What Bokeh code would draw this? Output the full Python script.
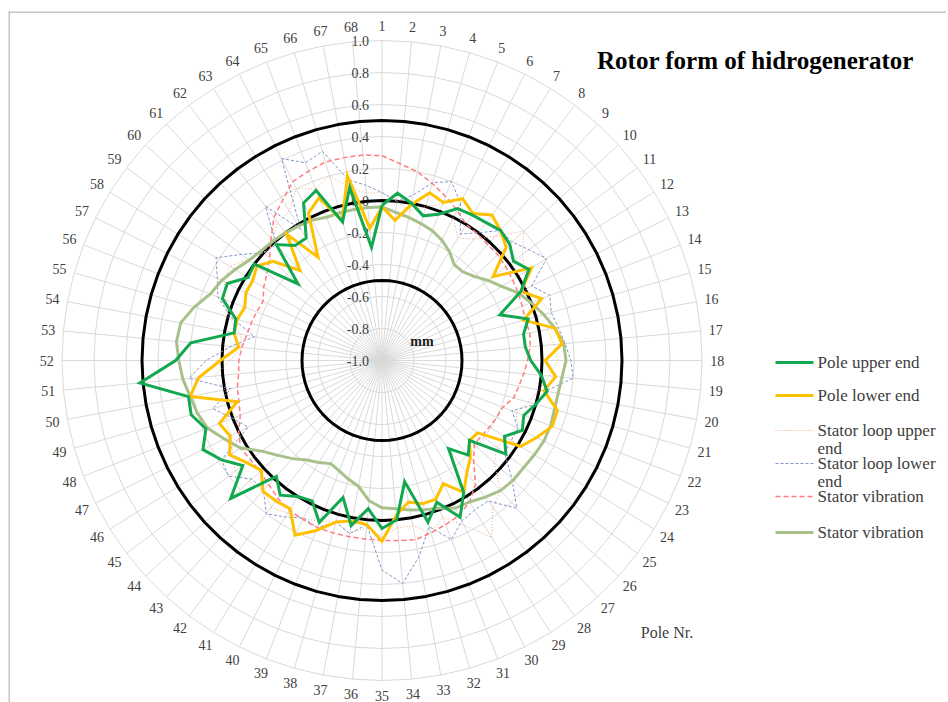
import numpy as np
from bokeh.plotting import figure
from bokeh.models import Range1d, Span
from bokeh.core.properties import value
from bokeh.embed import file_html
from bokeh.resources import INLINE

# ---------------- data ----------------
poles = list(range(1, 69))

pole_upper_end = [
    -0.03, 0.05, 0.00, -0.06, -0.02, 0.06, 0.07, 0.08, 0.10, 0.08,
    0.03, 0.08, -0.03, -0.21, -0.05, -0.10, -0.10, -0.07, 0.00, 0.05,
    0.00, -0.05, -0.02, -0.10, -0.03, -0.26, -0.20, -0.31, -0.03, 0.095,
    -0.05, 0.05, -0.23, 0.00, 0.05, -0.07, 0.05, -0.11, 0.085, -0.02,
    0.00, 0.055, -0.02, 0.28, 0.09, 0.18, 0.25, 0.18, 0.24, 0.23,
    0.52, 0.29, 0.20, -0.06, -0.05, 0.07, 0.08, -0.015, 0.00, -0.29,
    -0.02, -0.10, -0.10, 0.10, 0.14, -0.10, 0.10, -0.29]

pole_lower_end = [
    -0.04, -0.12, -0.01, 0.09, 0.06, 0.13, 0.08, 0.14, 0.10, 0.05,
    -0.13, 0.10, -0.03, 0.07, -0.08, 0.10, 0.13, 0.02, 0.09, 0.03,
    0.14, 0.14, 0.08, 0.02, -0.25, -0.26, -0.18, -0.12, -0.03, -0.14,
    -0.07, -0.07, -0.10, -0.03, 0.13, 0.03, 0.02, 0.05, 0.14, 0.22,
    0.09, 0.10, 0.105, 0.02, 0.06, 0.12, 0.06, 0.09, -0.06, 0.22,
    0.15, 0.01, -0.10, -0.06, -0.06, -0.08, -0.05, -0.05, -0.02, -0.08,
    -0.24, -0.01, -0.24, 0.03, 0.09, -0.09, 0.175, -0.17]

stator_loop_upper_end = [
    0.05, 0.00, -0.05, 0.00, 0.05, 0.00, -0.10, -0.05, 0.05, 0.20,
    0.10, 0.05, 0.00, 0.05, 0.10, 0.05, 0.08, 0.10, 0.05, 0.00,
    -0.05, -0.10, -0.05, -0.08, -0.10, -0.05, 0.10, 0.15, 0.30, 0.15,
    0.05, 0.12, 0.05, 0.05, 0.10, 0.05, 0.10, 0.05, 0.08, 0.10,
    0.12, 0.15, 0.10, 0.12, 0.15, 0.10, 0.05, 0.05, -0.05, 0.00,
    0.05, -0.05, -0.12, -0.10, 0.00, 0.05, 0.10, 0.12, 0.05, 0.00,
    0.02, 0.08, 0.10, 0.20, 0.15, 0.20, 0.10, 0.05]

stator_loop_lower_end = [
    0.05, 0.00, 0.05, 0.155, 0.20, 0.10, -0.07, 0.00, 0.10, 0.10,
    0.15, 0.21, 0.045, 0.125, 0.10, 0.12, 0.15, 0.18, 0.20, 0.04,
    0.00, -0.13, -0.05, -0.05, -0.04, 0.10, 0.25, 0.10, 0.10, 0.12,
    0.20, 0.08, 0.25, 0.40, 0.31, 0.03, 0.10, 0.05, 0.12, 0.10,
    0.15, 0.20, 0.10, 0.10, 0.20, 0.18, -0.065, 0.00, 0.10, -0.04,
    0.21, 0.10, -0.05, -0.19, -0.02, 0.10, 0.15, 0.22, 0.10, 0.00,
    -0.02, 0.21, -0.035, 0.41, 0.325, 0.36, 0.15, 0.10]

stator_vibration_1 = [
    0.28, 0.235, 0.20, 0.15, 0.10, 0.05, 0.00, -0.01, -0.02, -0.02,
    -0.03, -0.04, -0.05, -0.06, -0.07, -0.06, -0.07, -0.09, -0.11, -0.13,
    -0.145, -0.19, -0.20, -0.21, -0.22, -0.22, -0.15, -0.03, 0.04, 0.08,
    0.10, 0.12, 0.14, 0.13, 0.125, 0.12, 0.12, 0.12, 0.12, 0.11,
    0.10, 0.08, 0.05, 0.03, 0.03, 0.04, 0.00, -0.05, -0.07, -0.08,
    -0.10, -0.105, -0.12, -0.14, -0.15, -0.16, -0.17, -0.13, -0.10, -0.05,
    0.03, 0.12, 0.18, 0.25, 0.27, 0.29, 0.29, 0.29]

stator_vibration_2 = [
    -0.04, -0.07, -0.09, -0.11, -0.13, -0.16, -0.20, -0.25, -0.25, -0.22,
    -0.17, -0.12, -0.05, 0.00, 0.05, 0.10, 0.14, 0.15, 0.13, 0.12,
    0.12, 0.13, 0.13, 0.12, 0.11, 0.11, 0.10, 0.07, 0.04, 0.03,
    -0.01, -0.03, -0.05, -0.07, -0.08, -0.12, -0.20, -0.23, -0.26, -0.28,
    -0.25, -0.22, -0.17, -0.12, -0.06, 0.04, 0.10, 0.17, 0.20, 0.22,
    0.25, 0.27, 0.29, 0.28, 0.22, 0.15, 0.12, 0.08, 0.04, 0.02,
    0.01, 0.00, -0.01, -0.02, -0.04, -0.04, -0.04, -0.04]

limit_levels = [0.5, 0.0, -0.5]
ring_ticks = [-1.0, -0.8, -0.6, -0.4, -0.2, 0.0, 0.2, 0.4, 0.6, 0.8, 1.0]

legend_labels = [["Pole upper end"], ["Pole lower end"], ["Stator loop upper", "end"],
                 ["Stator loop lower", "end"], ["Stator vibration"], ["Stator vibration"]]

# ---------------- layout / style ----------------
W, H = 946, 702
LEFT_BORDER, TOP_BORDER = 8, 11
FRAME_W, FRAME_H = W - LEFT_BORDER, H - TOP_BORDER
CX, CY = 373.5, 349.0          # centre inside frame (px from frame left / top)
R = 320.0                      # radius of the 1.0 ring
VMIN, VMAX = -1.0, 1.0
SERIF = "Liberation Serif"
TXT = "#404040"

styles = [
    dict(color="#13A84F", width=3.0, dash="solid"),
    dict(color="#FFC000", width=3.0, dash="solid"),
    dict(color="#F1A57F", width=1.0, dash="1 2"),
    dict(color="#8095C8", width=1.0, dash="3 2"),
    dict(color="#FF7C80", width=1.5, dash="5 3"),
    dict(color="#A8C08A", width=3.0, dash="solid"),
]

n = len(poles)
theta = np.radians((np.array(poles) - 1) * 360.0 / n)
sin_t, cos_t = np.sin(theta), np.cos(theta)


def rad(v):
    return (np.asarray(v, dtype=float) - VMIN) / (VMAX - VMIN) * R


def ring_xy(vals):
    r = rad(vals)
    xs = list(r * sin_t) + [float(r[0] * sin_t[0])]
    ys = list(r * cos_t) + [float(r[0] * cos_t[0])]
    return xs, ys


p = figure(width=W, height=H, output_backend="svg", toolbar_location=None,
           x_range=Range1d(-CX, FRAME_W - CX), y_range=Range1d(-(FRAME_H - CY), CY),
           x_axis_location=None, y_axis_location=None,
           min_border_left=LEFT_BORDER, min_border_right=0, min_border_bottom=0,
           min_border_top=TOP_BORDER)
p.grid.visible = False
p.outline_line_color = None
p.background_fill_color = "white"
p.border_fill_color = "white"

# chart-area border: only the top and left edges fall inside the picture
p.add_layout(Span(location=-CX + 0.5, dimension="height", line_color="#8C8C8C", line_width=1))
p.add_layout(Span(location=CY - 0.5, dimension="width", line_color="#8C8C8C", line_width=1))

# spokes
p.segment(x0=np.zeros(n), y0=np.zeros(n), x1=rad(VMAX) * sin_t, y1=rad(VMAX) * cos_t,
          line_color="#D9D9D9", line_width=1)

# polygon grid rings
gx, gy = [], []
for t in ring_ticks[1:]:
    xs, ys = ring_xy([t] * n)
    gx.append(xs)
    gy.append(ys)
p.multi_line(gx, gy, line_color="#D9D9D9", line_width=1)

# radial tick labels
p.text(x=[-13] * len(ring_ticks), y=list(rad(ring_ticks)),
       text=["%.1f" % t for t in ring_ticks],
       text_font=value(SERIF), text_font_size="14px", text_color=TXT,
       text_align="right", text_baseline="middle")

# black limit circles
for lv in limit_levels:
    xs, ys = ring_xy([lv] * n)
    p.line(xs, ys, line_color="black", line_width=3)

# data series
all_series = [pole_upper_end, pole_lower_end, stator_loop_upper_end,
              stator_loop_lower_end, stator_vibration_1, stator_vibration_2]
draw_order = [2, 3, 4, 5, 1, 0]
for i in draw_order:
    st = styles[i]
    xs, ys = ring_xy(all_series[i])
    p.line(xs, ys, line_color=st["color"], line_width=st["width"],
           line_dash=st["dash"], line_join="miter")

# pole labels: box edge a fixed gap outside the 1.0 ring
GAP = 8.0
labels = [str(k) for k in poles]
half_w = np.array([3.6 * len(s) for s in labels])
half_h = 7.0
lx = (R + GAP) * sin_t + half_w * sin_t
ly = (R + GAP) * cos_t + half_h * cos_t
p.text(x=list(lx), y=list(ly), text=labels,
       text_font=value(SERIF), text_font_size="14px", text_color=TXT,
       text_align="center", text_baseline="middle")

# unit label
p.text(x=[40], y=[19], text=["mm"], text_font=value(SERIF), text_font_size="14px",
       text_font_style="bold", text_color="#202020", text_align="center",
       text_baseline="middle")

# axis title
p.text(x=[285], y=[-272], text=["Pole Nr."], text_font=value(SERIF),
       text_font_size="16px", text_color=TXT, text_align="center",
       text_baseline="middle")

# chart title
p.text(x=[215], y=[300], text=["Rotor form of hidrogenerator"],
       text_font=value(SERIF), text_font_size="25px", text_font_style="bold",
       text_color="black", text_align="left", text_baseline="middle")

# legend (manual, to allow wrapped labels)
LEG_X0, LEG_X1, LEG_TX = 393.5, 431.5, 435.5
row_y = [-2, -35, -70, -103, -136, -172]
LINE_H = 18
for i, lines in enumerate(legend_labels):
    st = styles[i]
    y0 = row_y[i]
    p.line([LEG_X0, LEG_X1], [y0, y0], line_color=st["color"],
           line_width=st["width"], line_dash=st["dash"])
    p.text(x=[LEG_TX] * len(lines), y=[y0 - j * LINE_H for j in range(len(lines))],
           text=lines, text_font=value(SERIF), text_font_size="17px",
           text_color=TXT, text_align="left", text_baseline="middle")

open("out.html", "w").write(file_html(p, INLINE))
